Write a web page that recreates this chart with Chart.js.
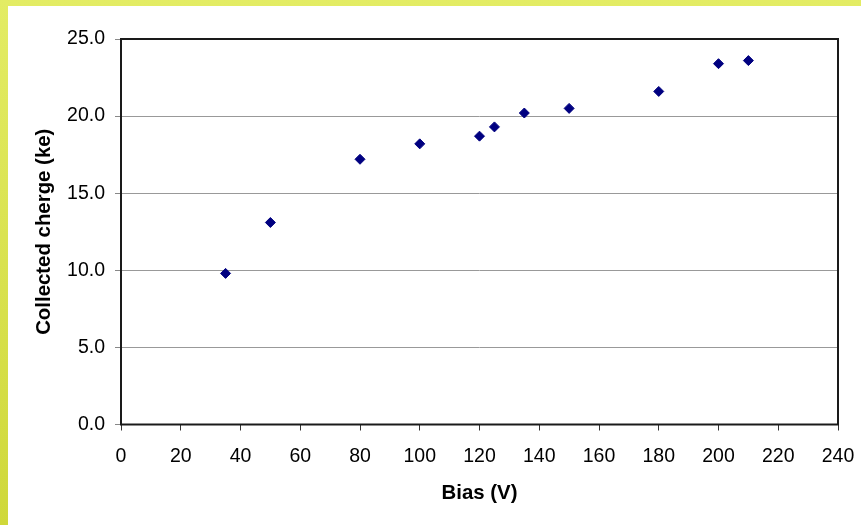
<!DOCTYPE html>
<html>
<head>
<meta charset="utf-8">
<script src="https://cdn.jsdelivr.net/npm/chart.js@4/dist/chart.umd.min.js"></script>
<style>
  html, body { margin: 0; padding: 0; }
  body {
    width: 861px; height: 525px; overflow: hidden; position: relative;
    background: linear-gradient(to bottom, #e3ec64, #cfd83a);
  }
  #wrap {
    position: absolute; left: 8px; top: 6px; width: 853px; height: 519px;
    background: #fff;
  }
  canvas { display: block; }
</style>
</head>
<body>
<div id="wrap"><canvas id="chart" width="853" height="519"></canvas></div>
<script>
// Bias voltage (V) and collected charge (ke)
const biasValues = [35, 50, 80, 100, 120, 125, 135, 150, 180, 200, 210];
const chargeValues = [9.8, 13.1, 17.2, 18.2, 18.7, 19.3, 20.2, 20.5, 21.6, 23.4, 23.6];

const xTitle = 'Bias (V)';
const yTitle = 'Collected cherge (ke)';

const points = biasValues.map((b, i) => ({ x: b, y: chargeValues[i] }));

// Frame round the plot area
const framePlugin = {
    id: 'frame',
    beforeDatasetsDraw(chart) {
        const { ctx, chartArea: a } = chart;
        ctx.save();
        ctx.strokeStyle = '#1a1a1a';
        ctx.lineWidth = 2;
        ctx.strokeRect(a.left, a.top, a.right - a.left, a.bottom - a.top);
        ctx.restore();
    }
};

const ctx = document.getElementById('chart').getContext('2d');
new Chart(ctx, {
    type: 'scatter',
    data: {
        datasets: [{
            data: points,
            pointStyle: 'rectRot',
            pointRadius: 5,
            pointHoverRadius: 5,
            backgroundColor: '#000080',
            borderColor: '#000080',
            borderWidth: 1
        }]
    },
    options: {
        responsive: false,
        animation: false,
        layout: { padding: { top: 33, right: 23, bottom: 0, left: 0 } },
        plugins: {
            legend: { display: false },
            tooltip: { enabled: false }
        },
        scales: {
            x: {
                type: 'linear',
                min: 0,
                max: 240,
                afterFit: scale => {
                    scale.height = 100.5;
                    // keep the plot's right edge fixed
                    scale.paddingRight = 0;
                },
                ticks: {
                    stepSize: 20,
                    color: '#000',
                    padding: 14,
                    maxRotation: 0,
                    font: { family: 'Liberation Sans', size: 19.5 }
                },
                grid: {
                    drawOnChartArea: false,
                    drawTicks: true,
                    tickLength: 6,
                    tickColor: '#333',
                    lineWidth: 1
                },
                border: { display: false },
                title: {
                    display: true,
                    text: xTitle,
                    color: '#000',
                    padding: { top: 0, bottom: 19 },
                    font: { family: 'Liberation Sans', size: 20.4, weight: 'bold' }
                }
            },
            y: {
                min: 0,
                max: 25,
                afterFit: scale => { scale.width = 113; },
                ticks: {
                    stepSize: 5,
                    color: '#000',
                    padding: 10,
                    callback: v => v.toFixed(1),
                    font: { family: 'Liberation Sans', size: 19.5 }
                },
                grid: {
                    color: c => (c.tick.value === 0 || c.tick.value === 25) ? 'rgba(0,0,0,0)' : '#999',
                    tickColor: '#888',
                    tickLength: 6,
                    lineWidth: 1
                },
                border: { display: false },
                title: {
                    display: true,
                    text: yTitle,
                    color: '#000',
                    padding: { top: 24, bottom: 0 },
                    font: { family: 'Liberation Sans', size: 20.4, weight: 'bold' }
                }
            }
        }
    },
    plugins: [framePlugin]
});
</script>
</body>
</html>
